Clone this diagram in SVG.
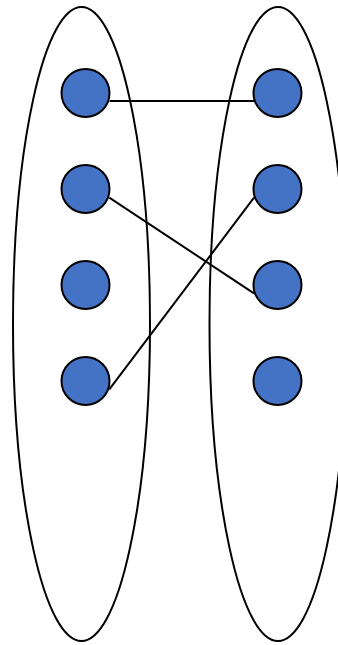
<svg xmlns="http://www.w3.org/2000/svg" width="338" height="645" viewBox="0 0 338 645">
<style>
.set{fill:none;stroke:#000;stroke-width:2}
.n{fill:#4472C4;stroke:#000;stroke-width:2}
.e{stroke:#000;stroke-width:2;fill:none}
</style>
<rect width="338" height="645" fill="#fff"/>
<g id="setA"><ellipse class="set" cx="81.5" cy="324" rx="68.5" ry="317"/></g>
<g id="setB"><ellipse class="set" cx="278" cy="324" rx="68.5" ry="317"/></g>
<g id="connectors">
<line class="e" x1="109.5" y1="101" x2="254" y2="101"/>
<line class="e" x1="109.3" y1="197.7" x2="254" y2="293.3"/>
<line class="e" x1="109.3" y1="389.3" x2="254" y2="197.7"/>
</g>
<g id="a1"><circle class="n" cx="85.5" cy="93" r="24"/></g>
<g id="a2"><circle class="n" cx="85.5" cy="189" r="24"/></g>
<g id="a3"><circle class="n" cx="85.5" cy="285" r="24"/></g>
<g id="a4"><circle class="n" cx="85.5" cy="381" r="24"/></g>
<g id="b1"><circle class="n" cx="277.5" cy="93" r="24"/></g>
<g id="b2"><circle class="n" cx="277.5" cy="189" r="24"/></g>
<g id="b3"><circle class="n" cx="277.5" cy="285" r="24"/></g>
<g id="b4"><circle class="n" cx="277.5" cy="381" r="24"/></g>
</svg>
